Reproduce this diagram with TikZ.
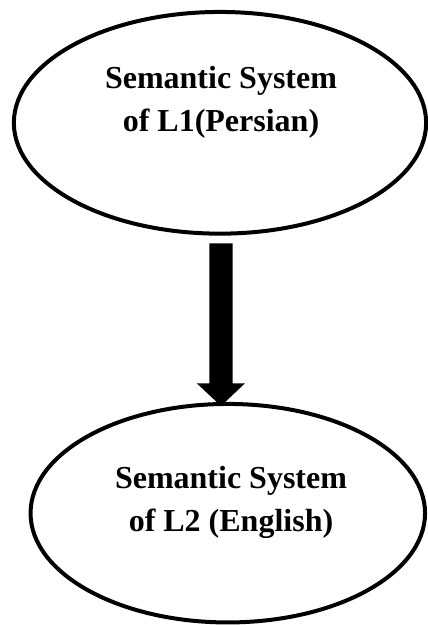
\documentclass[tikz,border=0pt]{standalone}
\usepackage{fontspec}
\setmainfont{Liberation Serif}
\usetikzlibrary{shapes.geometric,calc}
\begin{document}
\begin{tikzpicture}[x=1pt,y=1pt,
  ell/.style={ellipse,draw=black,line width=4pt,inner sep=0pt,outer sep=0pt},
  txt/.style={align=center,inner sep=0pt,anchor=base,
    font=\bfseries\fontsize{32}{43.4}\selectfont}]
\useasboundingbox (0,0) rectangle (428,625);
\node[ell,minimum width=412.3pt,minimum height=221.7pt] (e1) at (220,502.2) {};
\node[ell,minimum width=394.5pt,minimum height=218.5pt] (e2) at (227.8,111.8) {};
\node[txt] (t1) at (221,493.3) {Semantic System\\of L1(Persian)};
\node[txt] (t2) at (231,93.3) {Semantic System\\of L2 (English)};
\coordinate (as) at (221,381.7);
\coordinate (at) at (221,219);
\fill[black] ($(as)+(-11.7,0)$) -- ($(as)+(11.7,0)$) -- ($(at)+(11.7,22.7)$)
  -- ($(at)+(24,22.7)$) -- (at) -- ($(at)+(-24.3,22.7)$) -- ($(at)+(-11.7,22.7)$) -- cycle;
\end{tikzpicture}
\end{document}
